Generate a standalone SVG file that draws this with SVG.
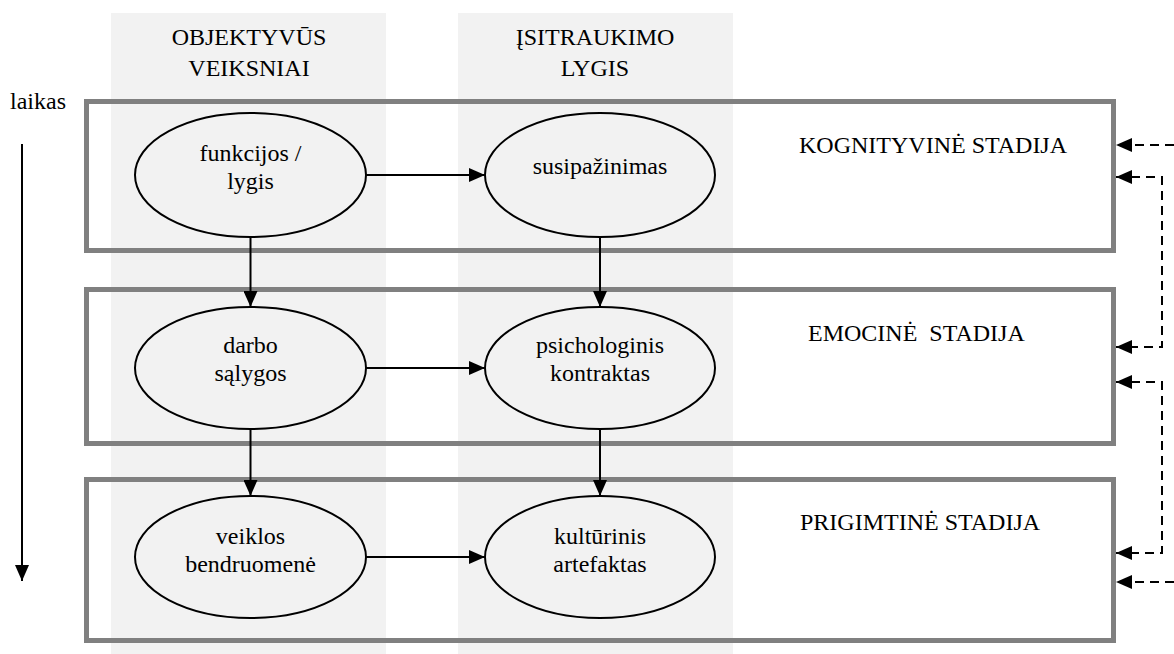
<svg xmlns="http://www.w3.org/2000/svg" width="1174" height="654" viewBox="0 0 1174 654">
<defs>
<style>
.col{fill:#f2f2f2;stroke:none}
.stage{fill:none;stroke:#808080;stroke-width:5}
.node ellipse{fill:#f2f2f2;stroke:#000;stroke-width:2}
text{font-family:"Liberation Serif","Times New Roman",serif;font-size:24px;fill:#000}
.c{text-anchor:middle}
.arr{stroke:#000;stroke-width:2;fill:none}
.dash{stroke:#000;stroke-width:2;fill:none;stroke-dasharray:9 6}
</style>
<marker id="ah" viewBox="0 0 16 14" refX="16" refY="7" markerWidth="16" markerHeight="14" markerUnits="userSpaceOnUse" orient="auto-start-reverse">
<path d="M0,0 L16,7 L0,14 Z" fill="#000"/>
</marker>
</defs>
<rect class="col" x="111" y="13" width="275" height="641"/>
<rect class="col" x="458" y="13" width="275" height="641"/>
<g id="header1"><text class="c" x="249" y="45">OBJEKTYVŪS</text><text class="c" x="249" y="76">VEIKSNIAI</text></g>
<g id="header2"><text class="c" x="595" y="45">ĮSITRAUKIMO</text><text class="c" x="595" y="76">LYGIS</text></g>
<g id="time"><text x="10" y="109">laikas</text><line class="arr" x1="22" y1="144" x2="22" y2="581" marker-end="url(#ah)"/></g>
<g id="stage1"><rect class="stage" x="86.5" y="101.5" width="1027" height="149"/><text x="799" y="153">KOGNITYVINĖ STADIJA</text></g>
<g id="stage2"><rect class="stage" x="86.5" y="289.5" width="1027" height="154"/><text x="808" y="341" xml:space="preserve">EMOCINĖ  STADIJA</text></g>
<g id="stage3"><rect class="stage" x="86.5" y="479.5" width="1027" height="161"/><text x="800" y="530">PRIGIMTINĖ STADIJA</text></g>
<g id="n1" class="node"><ellipse cx="250.5" cy="175" rx="115.5" ry="62"/><text class="c" x="250.5" y="161">funkcijos /</text><text class="c" x="250.5" y="189">lygis</text></g>
<g id="n2" class="node"><ellipse cx="600" cy="175" rx="115" ry="62"/><text class="c" x="600" y="174">susipažinimas</text></g>
<g id="n3" class="node"><ellipse cx="250.5" cy="368" rx="115.5" ry="61"/><text class="c" x="250.5" y="353">darbo</text><text class="c" x="250.5" y="381">sąlygos</text></g>
<g id="n4" class="node"><ellipse cx="600" cy="368" rx="115" ry="61"/><text class="c" x="600" y="353">psichologinis</text><text class="c" x="600" y="381">kontraktas</text></g>
<g id="n5" class="node"><ellipse cx="250.5" cy="557" rx="115.5" ry="61"/><text class="c" x="250.5" y="544">veiklos</text><text class="c" x="250.5" y="572">bendruomenė</text></g>
<g id="n6" class="node"><ellipse cx="600" cy="557" rx="115" ry="61"/><text class="c" x="600" y="544">kultūrinis</text><text class="c" x="600" y="572">artefaktas</text></g>
<g id="connectors">
<line class="arr" x1="366" y1="175" x2="485" y2="175" marker-end="url(#ah)"/>
<line class="arr" x1="366" y1="368" x2="485" y2="368" marker-end="url(#ah)"/>
<line class="arr" x1="366" y1="557" x2="485" y2="557" marker-end="url(#ah)"/>
<line class="arr" x1="250.5" y1="237" x2="250.5" y2="307" marker-end="url(#ah)"/>
<line class="arr" x1="250.5" y1="429" x2="250.5" y2="496" marker-end="url(#ah)"/>
<line class="arr" x1="600" y1="237" x2="600" y2="307" marker-end="url(#ah)"/>
<line class="arr" x1="600" y1="429" x2="600" y2="496" marker-end="url(#ah)"/>
<line class="dash" x1="1174" y1="145" x2="1116" y2="145" marker-end="url(#ah)"/>
<path class="dash" d="M1116,177 H1162 V347 H1116" marker-start="url(#ah)" marker-end="url(#ah)"/>
<path class="dash" d="M1116,382 H1162 V553 H1116" marker-start="url(#ah)" marker-end="url(#ah)"/>
<line class="dash" x1="1174" y1="582" x2="1116" y2="582" marker-end="url(#ah)"/>
</g>
</svg>
